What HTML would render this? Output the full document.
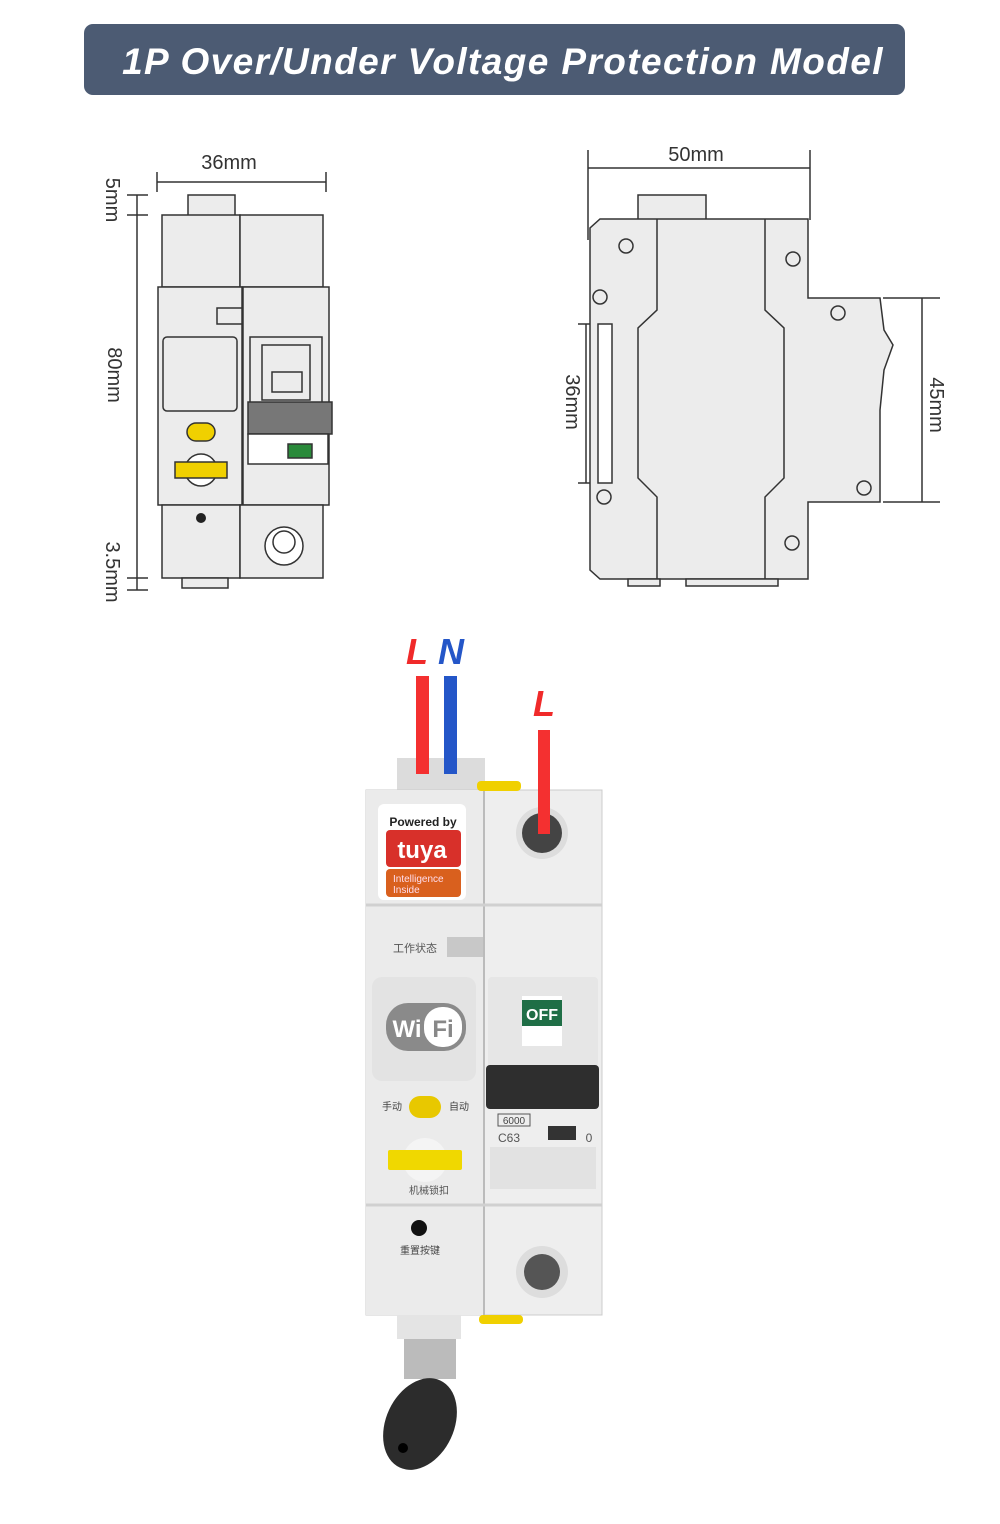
<!DOCTYPE html>
<html><head><meta charset="utf-8"><style>
body{margin:0;background:#fff;}
svg{display:block}
text{font-family:"Liberation Sans","Noto Sans CJK SC",sans-serif}
</style></head><body>
<svg width="1000" height="1524" viewBox="0 0 1000 1524" xmlns="http://www.w3.org/2000/svg">
<rect x="84" y="24" width="821" height="71" rx="9" fill="#4c5b73"/>
<text x="503" y="74" text-anchor="middle" font-size="37" font-weight="bold" font-style="italic" fill="#fff" letter-spacing="1.4">1P Over/Under Voltage Protection Model</text>

<!-- LEFT DRAWING -->
<g stroke="#333" stroke-width="1.5" fill="none">
<line x1="157" y1="182" x2="326" y2="182"/><line x1="157" y1="172" x2="157" y2="192"/><line x1="326" y1="172" x2="326" y2="192"/>
<line x1="137" y1="195" x2="137" y2="590"/>
<line x1="127" y1="195" x2="148" y2="195"/><line x1="127" y1="215" x2="148" y2="215"/>
<line x1="127" y1="578" x2="148" y2="578"/><line x1="127" y1="590" x2="148" y2="590"/>
</g>
<text x="229" y="169" text-anchor="middle" font-size="20" fill="#333">36mm</text>
<text transform="translate(106,200) rotate(90)" text-anchor="middle" font-size="20" fill="#333">5mm</text>
<text transform="translate(108,375) rotate(90)" text-anchor="middle" font-size="20" fill="#333">80mm</text>
<text transform="translate(106,572) rotate(90)" text-anchor="middle" font-size="20" fill="#333">3.5mm</text>
<g stroke="#333" stroke-width="1.5" fill="#ececec">
<rect x="188" y="195" width="47" height="22"/>
<rect x="162" y="215" width="78" height="72"/><rect x="240" y="215" width="83" height="72"/>
<rect x="158" y="287" width="84" height="218"/><rect x="243" y="287" width="86" height="218"/>
<rect x="162" y="505" width="78" height="73"/><rect x="240" y="505" width="83" height="73"/>
<rect x="182" y="578" width="46" height="10"/>
<rect x="163" y="337" width="74" height="74" rx="4"/>
<rect x="217" y="308" width="25" height="16"/>
<rect x="250" y="337" width="72" height="70"/>
<rect x="262" y="345" width="48" height="55"/>
<rect x="272" y="372" width="30" height="20"/>
<rect x="248" y="402" width="84" height="32" fill="#777"/>
<rect x="248" y="434" width="80" height="30" fill="#fff"/>
<rect x="288" y="444" width="24" height="14" fill="#2a8a3a"/>
<rect x="187" y="423" width="28" height="18" rx="9" fill="#f0d000"/>
<circle cx="201" cy="470" r="16" fill="#fff"/>
<rect x="175" y="462" width="52" height="16" fill="#f0d000"/>
<circle cx="284" cy="546" r="19" fill="#fff"/><circle cx="284" cy="542" r="11" fill="#fff"/>
</g>
<circle cx="201" cy="518" r="5" fill="#222"/>

<!-- RIGHT DRAWING -->
<g stroke="#333" stroke-width="1.5" fill="none">
<line x1="588" y1="168" x2="810" y2="168"/><line x1="588" y1="150" x2="588" y2="240"/><line x1="810" y1="150" x2="810" y2="220"/>
<line x1="922" y1="298" x2="922" y2="502"/><line x1="883" y1="298" x2="940" y2="298"/><line x1="883" y1="502" x2="940" y2="502"/>
<line x1="586" y1="324" x2="586" y2="483"/><line x1="578" y1="324" x2="612" y2="324"/><line x1="578" y1="483" x2="612" y2="483"/>
</g>
<text x="696" y="161" text-anchor="middle" font-size="20" fill="#333">50mm</text>
<text transform="translate(930,405) rotate(90)" text-anchor="middle" font-size="20" fill="#333">45mm</text>
<text transform="translate(566,402) rotate(90)" text-anchor="middle" font-size="20" fill="#333">36mm</text>
<g stroke="#333" stroke-width="1.5" fill="#ececec">
<rect x="638" y="195" width="68" height="26"/>
<path d="M600 219 H808 V298 H880 L884 330 L893 345 L884 370 L880 410 V502 H808 V579 H600 L590 570 V228 Z"/>
<path d="M657 219 V310 L638 328 V478 L657 497 V579"/>
<path d="M765 219 V310 L784 328 V478 L765 497 V579"/>
<rect x="598" y="324" width="14" height="159" fill="#fff"/>
<rect x="628" y="579" width="32" height="7"/><rect x="686" y="579" width="92" height="7"/>
<circle cx="626" cy="246" r="7"/><circle cx="793" cy="259" r="7"/><circle cx="600" cy="297" r="7"/>
<circle cx="838" cy="313" r="7"/><circle cx="604" cy="497" r="7"/><circle cx="864" cy="488" r="7"/><circle cx="792" cy="543" r="7"/>
</g>

<!-- FRONT DEVICE -->
<text x="417" y="664" text-anchor="middle" font-size="36" font-weight="bold" font-style="italic" fill="#f02a2a">L</text>
<text x="451" y="664" text-anchor="middle" font-size="36" font-weight="bold" font-style="italic" fill="#2456c8">N</text>
<text x="544" y="716" text-anchor="middle" font-size="36" font-weight="bold" font-style="italic" fill="#f02a2a">L</text>
<rect x="397" y="758" width="88" height="34" fill="#dcdcdc"/>
<rect x="366" y="790" width="236" height="525" fill="#eeeeee" stroke="#ccc"/>
<rect x="366" y="790" width="118" height="525" fill="#ebebeb"/>
<line x1="484" y1="790" x2="484" y2="1315" stroke="#bbb" stroke-width="2"/>
<line x1="366" y1="905" x2="602" y2="905" stroke="#d0d0d0" stroke-width="3"/>
<line x1="366" y1="1205" x2="602" y2="1205" stroke="#d0d0d0" stroke-width="3"/>
<rect x="477" y="781" width="44" height="10" rx="4" fill="#f0d000"/>
<rect x="479" y="1315" width="44" height="9" rx="4" fill="#f0d000"/>
<rect x="416" y="676" width="13" height="98" fill="#f43030"/>
<rect x="444" y="676" width="13" height="98" fill="#2456c8"/>
<rect x="378" y="804" width="88" height="96" rx="6" fill="#fff"/>
<text x="423" y="826" text-anchor="middle" font-size="12" font-weight="bold" fill="#222">Powered by</text>
<rect x="386" y="830" width="75" height="37" rx="4" fill="#d8302a"/>
<text x="422" y="858" text-anchor="middle" font-size="24" font-weight="bold" fill="#fff">tuya</text>
<rect x="386" y="869" width="75" height="28" rx="4" fill="#d9601e"/>
<text x="393" y="882" font-size="10" fill="#fde">Intelligence</text>
<text x="393" y="893" font-size="10" fill="#fde">Inside</text>
<circle cx="542" cy="833" r="26" fill="#ddd"/><circle cx="542" cy="833" r="20" fill="#444"/>
<rect x="538" y="730" width="12" height="104" fill="#f43030"/>
<text x="415" y="952" text-anchor="middle" font-size="11" fill="#555">工作状态</text>
<rect x="447" y="937" width="36" height="20" fill="#c8c8c8"/>
<rect x="372" y="977" width="104" height="104" rx="10" fill="#e3e3e3"/>
<rect x="386" y="1003" width="80" height="48" rx="22" fill="#8a8a8a"/>
<text x="407" y="1037" text-anchor="middle" font-size="24" font-weight="bold" fill="#fff">Wi</text>
<rect x="424" y="1007" width="38" height="40" rx="18" fill="#fff"/>
<text x="443" y="1037" text-anchor="middle" font-size="24" font-weight="bold" fill="#888">Fi</text>
<rect x="488" y="977" width="110" height="90" rx="4" fill="#e6e6e6"/>
<rect x="522" y="996" width="40" height="50" fill="#fff"/>
<rect x="522" y="1000" width="40" height="26" fill="#1f6e46"/>
<text x="542" y="1020" text-anchor="middle" font-size="16" font-weight="bold" fill="#fff">OFF</text>
<rect x="486" y="1065" width="113" height="44" rx="4" fill="#2e2e2e"/>
<text x="392" y="1110" text-anchor="middle" font-size="10" fill="#444">手动</text>
<rect x="409" y="1096" width="32" height="22" rx="11" fill="#e8c800"/>
<text x="459" y="1110" text-anchor="middle" font-size="10" fill="#444">自动</text>
<rect x="498" y="1114" width="32" height="12" fill="none" stroke="#555"/>
<text x="514" y="1124" text-anchor="middle" font-size="10" fill="#444">6000</text>
<text x="509" y="1142" text-anchor="middle" font-size="12" fill="#555">C63</text>
<rect x="548" y="1126" width="28" height="14" fill="#333"/>
<text x="589" y="1142" text-anchor="middle" font-size="12" fill="#555">0</text>
<rect x="490" y="1147" width="106" height="42" fill="#e2e2e2"/>
<circle cx="425" cy="1160" r="22" fill="#f4f4f4"/>
<rect x="388" y="1150" width="74" height="20" rx="2" fill="#f0d800"/>
<text x="429" y="1194" text-anchor="middle" font-size="10" fill="#555">机械锁扣</text>
<circle cx="419" cy="1228" r="8" fill="#111"/>
<text x="420" y="1254" text-anchor="middle" font-size="10" fill="#444">重置按键</text>
<circle cx="542" cy="1272" r="26" fill="#ddd"/><circle cx="542" cy="1272" r="18" fill="#555"/>
<rect x="397" y="1315" width="64" height="24" fill="#e4e4e4"/>
<rect x="404" y="1339" width="52" height="40" fill="#bbb"/>
<ellipse cx="420" cy="1424" rx="34" ry="48" transform="rotate(25 420 1424)" fill="#2c2c2c"/>
<circle cx="403" cy="1448" r="5" fill="#000"/>
</svg>
</body></html>
